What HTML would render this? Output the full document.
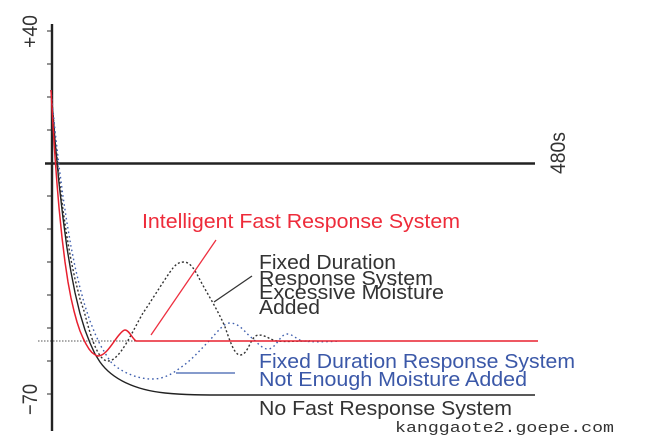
<!DOCTYPE html>
<html>
<head>
<meta charset="utf-8">
<style>
html,body{margin:0;padding:0;background:#fff;width:646px;height:445px;overflow:hidden}
svg{display:block;filter:blur(0.35px)}
text{font-family:"Liberation Sans",sans-serif;font-size:20.5px}
</style>
</head>
<body>
<svg width="646" height="445" viewBox="0 0 646 445" xmlns="http://www.w3.org/2000/svg">
<g stroke="#555" stroke-width="1.2">
<path d="M47 31H52M47 64H52M47 97H52M47 130H52M47 196H52M47 229H52M47 262H52M47 295H52M47 328H52M47 361H52M47 394H52"/>
</g>
<path d="M38 341H538" stroke="#555" stroke-width="1" stroke-dasharray="1.500 1.500" fill="none"/>
<path d="M52 24V431" stroke="#222" stroke-width="2.400" fill="none"/>
<path d="M45 163.500H535" stroke="#222" stroke-width="2.400" fill="none"/>
<path d="M51 90L55 140.600L59 183L63 218L67 248L71 272L75 292.600L80 313.600L85 330L90 343L95 354L100 362C112 379 135 390 165 393C185 395 200 395 235 395H535" stroke="#222" stroke-width="1.400" stroke-linejoin="round" fill="none"/>
<path d="M51 90L55 137L59 177L63 210L67 237L71 260L75 279L80 299L84 311C88 325 96 361 108 361C120 361 133 330 143 313C150 303 161 285 170 272C175 265 178 262 184 262C190 262 195 270 199 278C205 290 218 310 225 327C229 338 234 355 240 355C249 355 250 335 259 335C266 335 270 340 277 341C285 342 295 341 310 341" stroke="#333" stroke-width="1.400" stroke-dasharray="2 2.200" fill="none"/>
<path d="M51 90L55 130.600L59 166L63 196.600L67 223L71 246.500L75 266.600L80 288L85 306L90 321L95 333.600L100 344.500L105 353L110 361C118 370 135 379 152 379C164 379 172 374 180 368C192 360 200 350 210 340C218 331 224 323 230 323C240 323 246 334 252 338C258 343 262 349 268 349C276 349 280 334 287 334C293 334 297 340 303 341C312 342 325 342 340 341" stroke="#3f5fae" stroke-width="1.400" stroke-dasharray="1.600 3" fill="none"/>
<path d="M51 90L53 125.600L55 156.600L57 183.700L59 207.600L62 237.500L65 262L68 282L71 298L74 311L77 322L80 331L83 338L86 344L89 349L92 352.600C95 355 96.500 356 98 356C106 356 113 342 119 335C121 332.700 123 330 125 330C129 330 132 338 136 341H538" stroke="#e8202f" stroke-width="1.500" stroke-linejoin="round" fill="none"/>
<path d="M151 335L216 240" stroke="#ee3040" stroke-width="1.300" fill="none"/>
<path d="M214 302L252 276" stroke="#333" stroke-width="1.300" fill="none"/>
<path d="M176 373H235" stroke="#3f5fae" stroke-width="1.300" fill="none"/>
<text x="142" y="228" fill="#ee2b3a" textLength="318" lengthAdjust="spacingAndGlyphs">Intelligent Fast Response System</text>
<g fill="#333">
<text x="259" y="269" textLength="137" lengthAdjust="spacingAndGlyphs">Fixed Duration</text>
<text x="259" y="285" textLength="174" lengthAdjust="spacingAndGlyphs">Response System</text>
<text x="259" y="299" textLength="185" lengthAdjust="spacingAndGlyphs">Excessive Moisture</text>
<text x="259" y="314" textLength="61" lengthAdjust="spacingAndGlyphs">Added</text>
<text x="259" y="415" textLength="253" lengthAdjust="spacingAndGlyphs">No Fast Response System</text>
</g>
<g fill="#3b58a8">
<text x="259" y="368" textLength="316" lengthAdjust="spacingAndGlyphs">Fixed Duration Response System</text>
<text x="259" y="386" textLength="268" lengthAdjust="spacingAndGlyphs">Not Enough Moisture Added</text>
</g>
<text x="395" y="432" fill="#333" textLength="219" lengthAdjust="spacingAndGlyphs" style="font-family:'Liberation Mono',monospace;font-size:15px">kanggaote2.goepe.com</text>
<g fill="#333">
<text transform="translate(37 48) rotate(-90)" textLength="33" lengthAdjust="spacingAndGlyphs" style="font-size:21px">+40</text>
<text transform="translate(37 415) rotate(-90)" textLength="31" lengthAdjust="spacingAndGlyphs" style="font-size:21px">−70</text>
<text transform="translate(565 174) rotate(-90)" textLength="42" lengthAdjust="spacingAndGlyphs" style="font-size:21px">480s</text>
</g>
</svg>
</body>
</html>
